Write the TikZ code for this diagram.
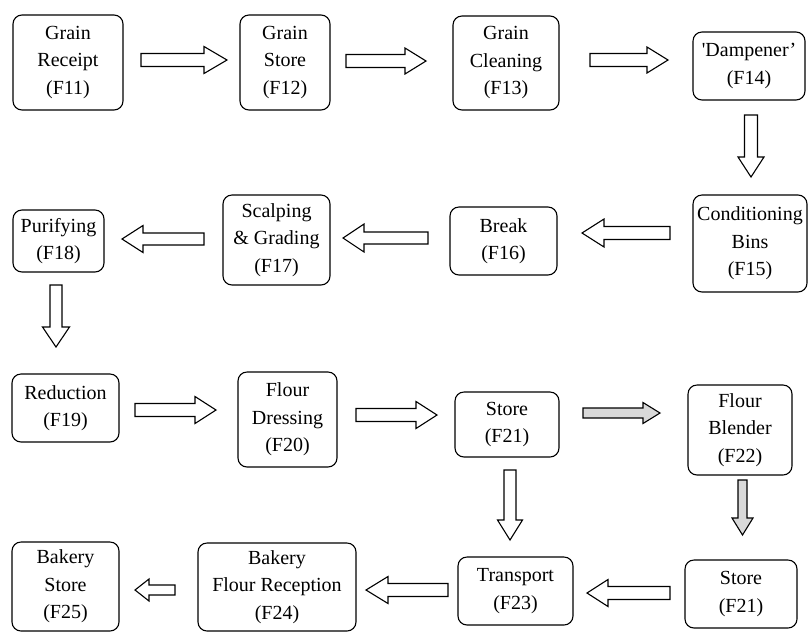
\documentclass[tikz,border=0pt]{standalone}
\usepackage{fontspec}
\setmainfont{Liberation Serif}
\usetikzlibrary{calc}

% block arrow: start, end, shaft half-width, head half-width, head length, style
\newcommand\blockarrow[6]{%
  \coordinate (ba-s) at (#1);
  \coordinate (ba-e) at (#2);
  \coordinate (ba-h) at ($(ba-e)!#5!(ba-s)$);
  \draw[blockline,#6]
    ($(ba-s)!#3!90:(ba-e)$) -- ($(ba-h)!#3!90:(ba-e)$) --
    ($(ba-h)!#4!90:(ba-e)$) -- (ba-e) --
    ($(ba-h)!#4!-90:(ba-e)$) -- ($(ba-h)!#3!-90:(ba-e)$) --
    ($(ba-s)!#3!-90:(ba-e)$) -- cycle;
}

\begin{document}
\begin{tikzpicture}[x=1pt,y=-1pt,
  stage/.style={draw=black, line width=1.1pt, rounded corners=9pt,
    inner sep=0pt, align=center, font=\fontsize{20}{27.5}\selectfont},
  blockline/.style={draw=black, line width=1.1pt, line join=miter, fill=white},
  shaded/.style={fill=gray!30}]
\useasboundingbox (0,0) rectangle (808,633);

% process stages
\node[stage, minimum width=110pt, minimum height=95pt] (f11) at (68,62.5) {Grain\\Receipt\\(F11)};
\node[stage, minimum width=90pt, minimum height=95pt] (f12) at (285,62.5) {Grain\\Store\\(F12)};
\node[stage, minimum width=106pt, minimum height=94pt] (f13) at (506,63) {Grain\\Cleaning\\(F13)};
\node[stage, minimum width=112pt, minimum height=68pt] (f14) at (749,66) {\textquotesingle Dampener'\\(F14)};
\node[stage, minimum width=114pt, minimum height=97pt] (f15) at (750,243.5) {Conditioning\\Bins\\(F15)};
\node[stage, minimum width=107pt, minimum height=68pt] (f16) at (503.5,241) {Break\\(F16)};
\node[stage, minimum width=107pt, minimum height=90pt] (f17) at (276.5,240) {Scalping\\\& Grading\\(F17)};
\node[stage, minimum width=91pt, minimum height=62pt] (f18) at (58.5,241) {Purifying\\(F18)};
\node[stage, minimum width=107pt, minimum height=68pt] (f19) at (65.5,408) {Reduction\\(F19)};
\node[stage, minimum width=99pt, minimum height=95pt] (f20) at (287.5,419.5) {Flour\\Dressing\\(F20)};
\node[stage, minimum width=104pt, minimum height=65pt] (f21) at (507,424.5) {Store\\(F21)};
\node[stage, minimum width=104pt, minimum height=90pt] (f22) at (740,430) {Flour\\Blender\\(F22)};
\node[stage, minimum width=112pt, minimum height=68pt] (f21b) at (741,594) {Store\\(F21)};
\node[stage, minimum width=115pt, minimum height=68pt] (f23) at (515.5,591) {Transport\\(F23)};
\node[stage, minimum width=158pt, minimum height=88pt] (f24) at (277,587) {Bakery\\Flour Reception\\(F24)};
\node[stage, minimum width=107pt, minimum height=89pt] (f25) at (65.5,586.5) {Bakery\\Store\\(F25)};

% arrow ends
\coordinate (a1s) at (141,60);   \coordinate (a1e) at (227,60);
\coordinate (a2s) at (346,61);   \coordinate (a2e) at (426,61);
\coordinate (a3s) at (590,60);   \coordinate (a3e) at (668,60);
\coordinate (a4s) at (751,115);  \coordinate (a4e) at (751,177);
\coordinate (a5s) at (670,233);  \coordinate (a5e) at (582,233);
\coordinate (a6s) at (428,238);  \coordinate (a6e) at (343,238);
\coordinate (a7s) at (204,239);  \coordinate (a7e) at (122,239);
\coordinate (a8s) at (56,285);   \coordinate (a8e) at (56,347);
\coordinate (a9s) at (135,410);  \coordinate (a9e) at (216,410);
\coordinate (a10s) at (356,415); \coordinate (a10e) at (437,415);
\coordinate (a11s) at (583,413); \coordinate (a11e) at (660,413);
\coordinate (a12s) at (510,470); \coordinate (a12e) at (510,540);
\coordinate (a13s) at (742.5,480); \coordinate (a13e) at (742.5,535);
\coordinate (a14s) at (670,593); \coordinate (a14e) at (587,593);
\coordinate (a15s) at (448,590); \coordinate (a15e) at (366,590);
\coordinate (a16s) at (175,590); \coordinate (a16e) at (135,590);

% flow arrows
\blockarrow{a1s}{a1e}{6.5pt}{13.5pt}{23pt}{}
\blockarrow{a2s}{a2e}{6.5pt}{13pt}{21pt}{}
\blockarrow{a3s}{a3e}{6.5pt}{13pt}{21pt}{}
\blockarrow{a4s}{a4e}{6.5pt}{13pt}{20pt}{}
\blockarrow{a5s}{a5e}{6.5pt}{14pt}{22pt}{}
\blockarrow{a6s}{a6e}{6pt}{14pt}{21pt}{}
\blockarrow{a7s}{a7e}{6pt}{13.5pt}{21pt}{}
\blockarrow{a8s}{a8e}{6pt}{13.5pt}{20pt}{}
\blockarrow{a9s}{a9e}{6.5pt}{13.5pt}{21pt}{}
\blockarrow{a10s}{a10e}{6.5pt}{13.5pt}{21pt}{}
\blockarrow{a11s}{a11e}{5pt}{10.5pt}{17pt}{shaded}
\blockarrow{a12s}{a12e}{6pt}{12.5pt}{20pt}{}
\blockarrow{a13s}{a13e}{4.5pt}{10.5pt}{17pt}{shaded}
\blockarrow{a14s}{a14e}{6.5pt}{13.5pt}{21pt}{}
\blockarrow{a15s}{a15e}{6.5pt}{13.5pt}{22pt}{}
\blockarrow{a16s}{a16e}{5pt}{11pt}{14pt}{}
\end{tikzpicture}
\end{document}
